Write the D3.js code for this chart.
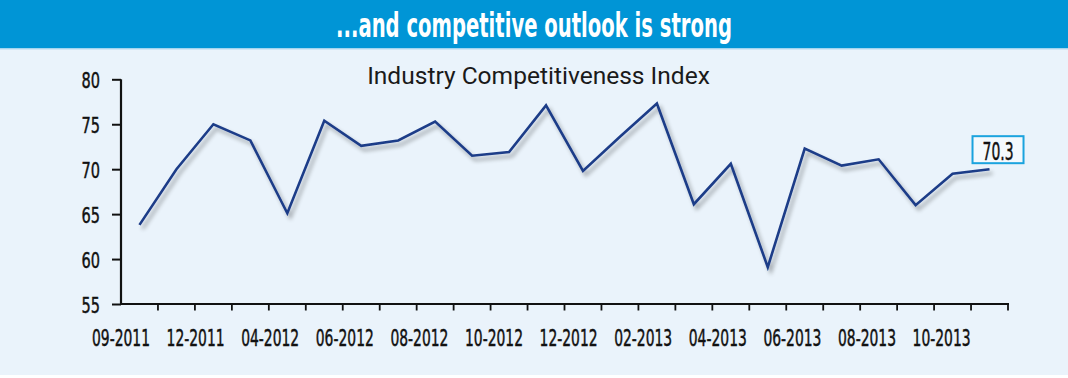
<!DOCTYPE html>
<html>
<head>
<meta charset="utf-8">
<script src="https://cdn.jsdelivr.net/npm/d3@7"></script>
<style>
  html, body { margin: 0; padding: 0; background: #ffffff; }
  svg { display: block; }
</style>
</head>
<body>
<svg id="chart" width="1068" height="378"></svg>
<script>
// ---- data ----
const title = "...and competitive outlook is strong";
const subtitle = "Industry Competitiveness Index";
const categories = ["P01","P02","P03","P04","P05","P06","P07","P08","P09","P10","P11","P12",
                    "P13","P14","P15","P16","P17","P18","P19","P20","P21","P22","P23","P24"];
const values = [63.8, 70.0, 75.0, 73.2, 65.1, 75.4, 72.6, 73.2, 75.3, 71.5, 71.9, 77.1,
                69.8, 73.6, 77.3, 66.1, 70.6, 59.1, 72.3, 70.4, 71.1, 66.0, 69.5, 70.0];
const xTickLabels = ["09-2011","12-2011","04-2012","06-2012","08-2012","10-2012",
                     "12-2012","02-2013","04-2013","06-2013","08-2013","10-2013"];
const yTicks = [55, 60, 65, 70, 75, 80];
const calloutText = "70.3";

// ---- layout ----
const W = 1068, H = 378;
const plot = { left: 121, right: 1008, top: 79.3, bottom: 304 };
const condensed = "'Liberation Sans Narrow', 'DejaVu Sans Condensed', 'Liberation Sans', sans-serif";

const svg = d3.select("#chart");
const defs = svg.append("defs");
const f = defs.append("filter").attr("id", "shadow")
  .attr("x", "-5%").attr("y", "-20%").attr("width", "110%").attr("height", "140%");
f.append("feGaussianBlur").attr("in", "SourceAlpha").attr("stdDeviation", 2.2).attr("result", "b");
f.append("feOffset").attr("in", "b").attr("dx", 3).attr("dy", 4).attr("result", "o");
f.append("feComponentTransfer").attr("in", "o").attr("result", "o2")
  .append("feFuncA").attr("type", "linear").attr("slope", 0.35);
const fm = f.append("feMerge");
fm.append("feMergeNode").attr("in", "o2");
fm.append("feMergeNode").attr("in", "SourceGraphic");

// background
svg.append("rect").attr("x", 0).attr("y", 0).attr("width", W).attr("height", 375).attr("fill", "#eaf3fb");
// title bar
svg.append("rect").attr("x", 0).attr("y", 0).attr("width", W).attr("height", 48.5).attr("fill", "#0095d6");
svg.append("rect").attr("x", 0).attr("y", 48.5).attr("width", W).attr("height", 1.5).attr("fill", "#cfe6f6");

// place a text at (cx, by) with anchor, scaled horizontally to a target width
function fitText(sel, cx, by, width, anchor) {
  sel.attr("x", 0).attr("y", 0).attr("text-anchor", anchor || "middle");
  const nat = sel.node().getComputedTextLength();
  const sx = width / nat;
  sel.attr("transform", `translate(${cx},${by}) scale(${sx},1)`);
}

const t = svg.append("text")
  .attr("fill", "#ffffff")
  .attr("font-family", condensed)
  .attr("font-weight", "bold")
  .attr("font-size", 33)
  .text(title);
fitText(t, 534, 37, 396);

const st = svg.append("text")
  .attr("fill", "#1a1a1a")
  .attr("font-family", "Roboto, 'DejaVu Sans', sans-serif")
  .attr("font-size", 23.5)
  .text(subtitle);
fitText(st, 538.5, 83.5, 343);

// ---- scales ----
const x = d3.scaleBand().domain(categories).range([plot.left, plot.right]).paddingInner(0).paddingOuter(0);
const y = d3.scaleLinear().domain([55, 80]).range([plot.bottom, plot.top]);
const labelX = d3.scalePoint().domain(xTickLabels).range([121, 941.6]);

// y axis
const yAxis = svg.append("g")
  .attr("transform", `translate(${plot.left},0)`)
  .call(d3.axisLeft(y).tickValues(yTicks).tickSize(9).tickPadding(11).tickFormat(d3.format("d")));
yAxis.select(".domain").attr("stroke", "#111").attr("stroke-width", 2.2)
  .attr("d", `M0,${plot.top}V${plot.bottom}`);
yAxis.selectAll(".tick line").attr("stroke", "#111").attr("stroke-width", 2);
yAxis.selectAll(".tick text")
  .attr("fill", "#111")
  .attr("stroke", "#111").attr("stroke-width", 0.45)
  .attr("font-family", condensed)
  .attr("font-size", 22)
  .attr("dy", null)
  .each(function() { fitText(d3.select(this), -21, 8, 18.5, "end"); });

// x axis line and ticks at band edges
const edges = categories.map(c => x(c) + x.bandwidth());
const xAxis = svg.append("g");
xAxis.append("line")
  .attr("x1", plot.left - 1).attr("x2", plot.right + 1)
  .attr("y1", plot.bottom).attr("y2", plot.bottom)
  .attr("stroke", "#111").attr("stroke-width", 2.2);
xAxis.selectAll("line.tick").data(edges).join("line")
  .attr("class", "tick")
  .attr("x1", d => d).attr("x2", d => d)
  .attr("y1", plot.bottom).attr("y2", plot.bottom + 6.5)
  .attr("stroke", "#111").attr("stroke-width", 1.8);
xAxis.selectAll("text").data(xTickLabels).join("text")
  .attr("fill", "#111")
  .attr("stroke", "#111").attr("stroke-width", 0.45)
  .attr("font-family", condensed)
  .attr("font-size", 22.5)
  .text(d => d)
  .each(function(d) { fitText(d3.select(this), labelX(d), 345.5, 58); });

// ---- line ----
const line = d3.line()
  .x((d, i) => x(categories[i]) + x.bandwidth() / 2)
  .y(d => y(d));
svg.append("path")
  .datum(values)
  .attr("d", line)
  .attr("fill", "none")
  .attr("stroke", "#1d3c88")
  .attr("stroke-width", 2.6)
  .attr("stroke-linejoin", "miter")
  .attr("filter", "url(#shadow)");

// ---- callout box ----
const lastCat = categories[categories.length - 1];
const bx = x(lastCat) + x.bandwidth() / 2 - 17;
const by = y(values[values.length - 1]) - 33;
svg.append("rect")
  .attr("x", bx).attr("y", by)
  .attr("width", 51).attr("height", 27)
  .attr("fill", "#f4f9fd")
  .attr("stroke", "#1ba3de")
  .attr("stroke-width", 2);
const ct = svg.append("text")
  .attr("fill", "#111")
  .attr("stroke", "#111").attr("stroke-width", 0.45)
  .attr("font-family", condensed)
  .attr("font-size", 24.5)
  .text(calloutText);
fitText(ct, bx + 25.5, by + 23.5, 31);
</script>
</body>
</html>
